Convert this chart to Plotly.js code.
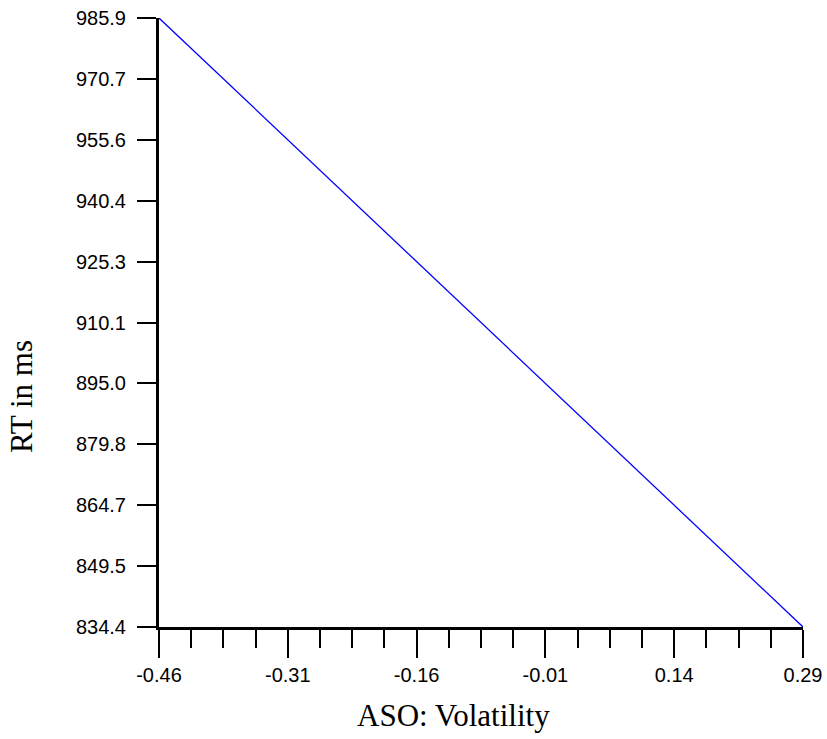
<!DOCTYPE html>
<html>
<head>
<meta charset="utf-8">
<script src="https://cdn.plot.ly/plotly-3.0.1.min.js"></script>
<style>html,body{margin:0;padding:0;background:#fff;}#chart{width:827px;height:739px;}</style>
</head>
<body>
<div id="chart"></div>
<script>
// Data
const xValues = [-0.46, 0.29];
const yValues = [985.9, 834.4];
const xTickVals = [-0.46, -0.31, -0.16, -0.01, 0.14, 0.29];
const xTickText = ["-0.46", "-0.31", "-0.16", "-0.01", "0.14", "0.29"];
const xMinorVals = [-0.4225, -0.385, -0.3475, -0.2725, -0.235, -0.1975, -0.1225, -0.085, -0.0475, 0.0275, 0.065, 0.1025, 0.1775, 0.215, 0.2525];
const yTickVals = [834.4, 849.55, 864.7, 879.85, 895.0, 910.15, 925.3, 940.45, 955.6, 970.75, 985.9];
const yTickText = ["834.4", "849.5", "864.7", "879.8", "895.0", "910.1", "925.3", "940.4", "955.6", "970.7", "985.9"];
const xTitle = 'ASO: Volatility';
const yTitle = 'RT in ms';

const trace = {
  x: xValues, y: yValues, type: 'scatter', mode: 'lines',
  line: {color: '#0000ff', width: 1.3},
  hoverinfo: 'none'
};

const tickFont = {family: 'Liberation Sans, Arial, sans-serif', size: 20, color: '#000'};
const titleFont = {family: 'Liberation Serif, Times New Roman, serif', size: 31, color: '#000'};

const layout = {
  width: 827, height: 739,
  margin: {l: 159, r: 24, t: 18, b: 112},
  paper_bgcolor: '#fff', plot_bgcolor: '#fff',
  showlegend: false,
  xaxis: {
    range: [-0.46, 0.29], autorange: false,
    showgrid: false, zeroline: false,
    showline: true, linecolor: '#000', linewidth: 3,
    ticks: 'outside', ticklen: 28, tickwidth: 2, tickcolor: '#000',
    tickmode: 'array', tickvals: xTickVals, ticktext: xTickText,
    ticklabelstandoff: 0,
    tickfont: tickFont,
    minor: {tickmode: 'array', tickvals: xMinorVals, ticks: 'outside', ticklen: 18, tickwidth: 2, tickcolor: '#000', showgrid: false}
  },
  yaxis: {
    range: [834.4, 985.9], autorange: false,
    showgrid: false, zeroline: false,
    showline: true, linecolor: '#000', linewidth: 3,
    ticks: 'outside', ticklen: 19, tickwidth: 2, tickcolor: '#000',
    tickmode: 'array', tickvals: yTickVals, ticktext: yTickText,
    ticklabelstandoff: 7,
    tickfont: tickFont
  },
  annotations: [
    {text: xTitle, xref: 'paper', yref: 'paper', x: 0.458, y: -0.146, xanchor: 'center', yanchor: 'middle', showarrow: false, font: titleFont},
    {text: yTitle, xref: 'paper', yref: 'paper', x: -0.2127, y: 0.3777, xanchor: 'center', yanchor: 'middle', textangle: -90, showarrow: false, font: titleFont}
  ]
};

Plotly.newPlot('chart', [trace], layout, {staticPlot: true, displayModeBar: false});
</script>
</body>
</html>
